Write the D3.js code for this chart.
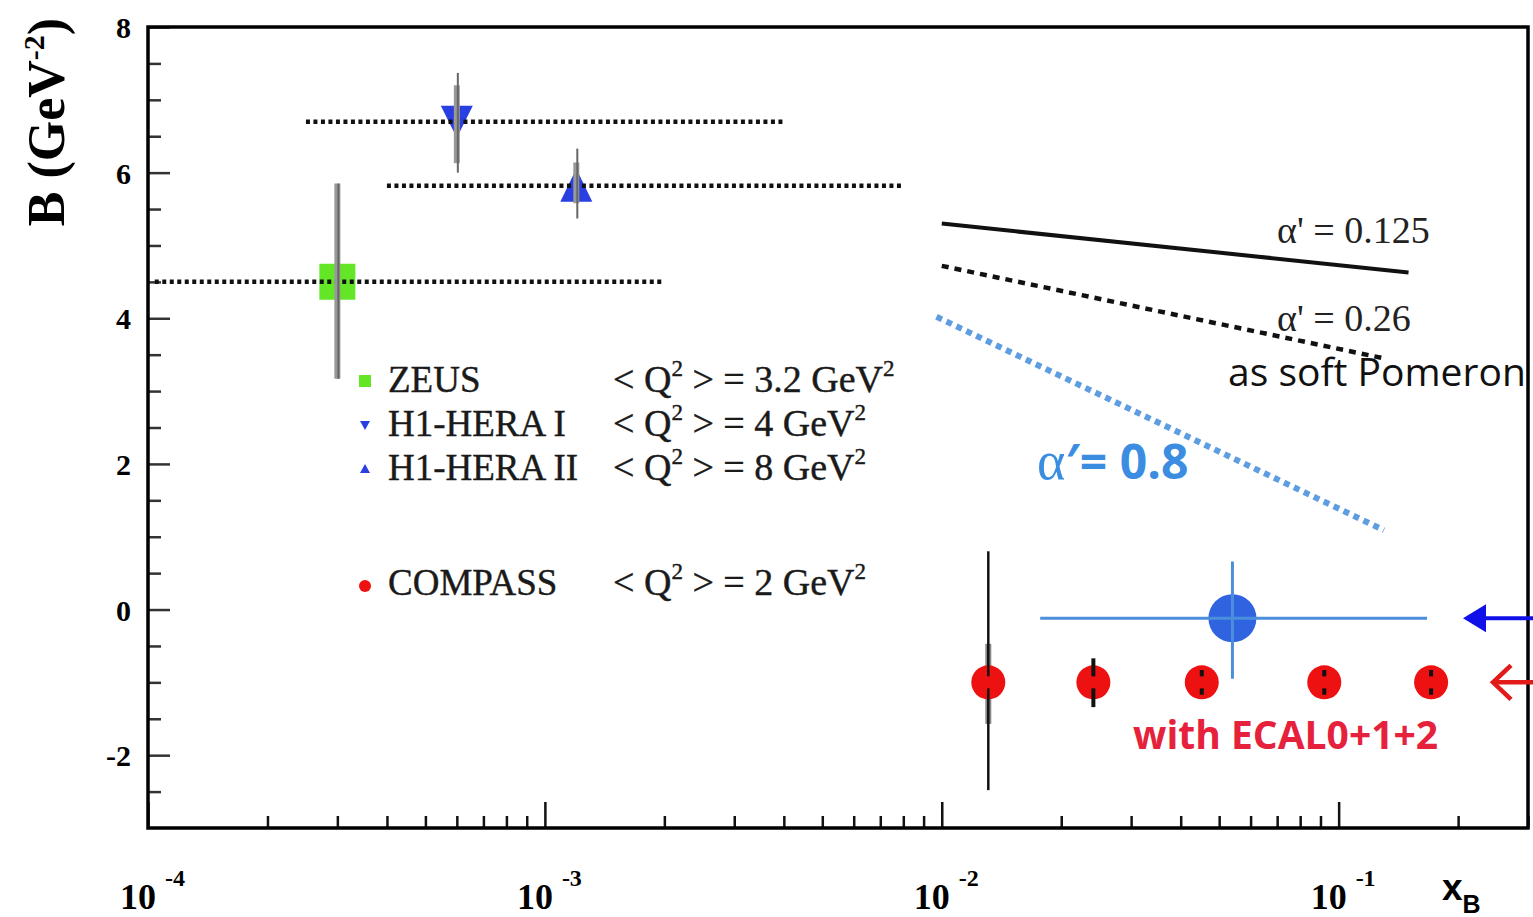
<!DOCTYPE html>
<html>
<head>
<meta charset="utf-8">
<script src="https://cdn.jsdelivr.net/npm/d3@7"></script>
<style>
	body { margin: 0; background: #fff; overflow: hidden; }
	text { font-family: "Liberation Serif", "DejaVu Serif", serif; }
</style>
</head>
<body>
<svg id="chart" width="1533" height="917"></svg>
<script>
// HERA points (ZEUS, H1)
var heraNames = ["ZEUS", "H1-HERA I", "H1-HERA II"];
var heraQ2 = ["3.2", "4", "8"];
var heraX = [3.0e-4, 6.0e-4, 1.2e-3];
var heraB = [4.5, 6.7, 5.82];
var heraXLo = [1.04e-4, 2.5e-4, 4.0e-4];
var heraXHi = [2.0e-3, 4.0e-3, 8.0e-3];
var heraSysLo = [3.17, 6.13, 5.58];
var heraSysHi = [5.85, 7.2, 6.14];
var heraTotLo = [3.17, 6.0, 5.37];
var heraTotHi = [5.85, 7.37, 6.33];

// COMPASS projection points
var compassX = [0.0131, 0.0241, 0.0452, 0.092, 0.171];
var compassB = [-1.0, -1.0, -1.0, -1.0, -1.0];
var compassErrLo = [-2.48, -1.34, -1.17, -1.17, -1.17];
var compassErrHi = [0.8, -0.67, -0.83, -0.83, -0.83];
var compassSysLo = [-1.57, -1.0, -1.0, -1.0, -1.0];
var compassSysHi = [-0.47, -1.0, -1.0, -1.0, -1.0];

// single point without ECAL0
var projX = [0.054];
var projB = [-0.12];
var projXLo = [0.0177];
var projXHi = [0.167];
var projBLo = [-0.95];
var projBHi = [0.66];

// slope lines
var slopeX0 = [0.01, 0.01, 0.0097];
var slopeX1 = [0.15, 0.13, 0.13];
var slopeB0 = [5.30, 4.72, 4.02];
var slopeB1 = [4.63, 3.45, 1.09];

// tick labels
var xDecades = [1e-4, 1e-3, 1e-2, 1e-1];
var xDecadeExp = ["-4", "-3", "-2", "-1"];
var yMajor = [-2, 0, 2, 4, 6, 8];

var svg = d3.select("#chart");
svg.append("rect").attr("width", 1533).attr("height", 917).attr("fill", "#fff");

var x = d3.scaleLog()
	.domain([1e-4, 0.3])
	.range([148, 1528]);
var y = d3.scaleLinear()
	.domain([-3, 8])
	.range([828, 27]);

// axes (ticks inside the frame)
var xMinor = x.ticks().filter(function(d) { return xDecades.indexOf(d) < 0; });
svg.append("g")
	.attr("transform", "translate(0,828)")
	.call(d3.axisBottom(x).tickValues(xMinor).tickSize(-12).tickSizeOuter(0).tickFormat(""))
	.call(function(g) { g.select(".domain").remove(); })
	.selectAll("line").attr("stroke", "#111").attr("stroke-width", 2.5);
svg.append("g")
	.attr("transform", "translate(0,828)")
	.call(d3.axisBottom(x).tickValues(xDecades).tickSize(-26).tickSizeOuter(0).tickFormat(""))
	.call(function(g) { g.select(".domain").remove(); })
	.selectAll("line").attr("stroke", "#111").attr("stroke-width", 2.5);

var yMinor = d3.range(-2.5, 8, 0.5).filter(function(d) { return yMajor.indexOf(d) < 0; });
svg.append("g")
	.attr("transform", "translate(148,0)")
	.call(d3.axisLeft(y).tickValues(yMinor).tickSize(-13).tickSizeOuter(0).tickFormat(""))
	.call(function(g) { g.select(".domain").remove(); })
	.selectAll("line").attr("stroke", "#333").attr("stroke-width", 2.5);
svg.append("g")
	.attr("transform", "translate(148,0)")
	.call(d3.axisLeft(y).tickValues(yMajor).tickSize(-22).tickSizeOuter(0).tickFormat(""))
	.call(function(g) { g.select(".domain").remove(); })
	.selectAll("line").attr("stroke", "#333").attr("stroke-width", 2.5);

// frame
svg.append("rect")
	.attr("x", x.range()[0]).attr("y", y.range()[1])
	.attr("width", x.range()[1] - x.range()[0])
	.attr("height", y.range()[0] - y.range()[1])
	.attr("fill", "none").attr("stroke", "#000").attr("stroke-width", 3.5);

// y tick labels
svg.selectAll(".ylab")
	.data(yMajor)
	.enter().append("text")
	.attr("x", 131)
	.attr("y", function(d) { return y(d) + 11; })
	.attr("text-anchor", "end")
	.style("font-size", "30px").style("font-weight", "bold")
	.text(function(d) { return d; });

// x tick labels 10^n
var xl = svg.selectAll(".xlab")
	.data(xDecades)
	.enter().append("g");
xl.append("text")
	.attr("x", function(d) { return x(d) + 8; })
	.attr("y", 909)
	.attr("text-anchor", "end")
	.style("font-size", "36px").style("font-weight", "bold")
	.text("10");
xl.append("text")
	.attr("x", function(d) { return x(d) + 17; })
	.attr("y", 886)
	.style("font-size", "24px").style("font-weight", "bold")
	.text(function(d, i) { return xDecadeExp[i]; });

// axis titles
svg.append("text")
	.attr("transform", "translate(64,122) rotate(-90)")
	.attr("text-anchor", "middle")
	.style("font-size", "52px").style("font-weight", "bold")
	.html('B (GeV<tspan dy="-20" style="font-size:30px">-2</tspan><tspan dy="20">)</tspan>');
svg.append("text")
	.attr("x", 1442).attr("y", 900)
	.style("font-family", "'Liberation Sans', Arial, sans-serif")
	.style("font-size", "37px").style("font-weight", "bold")
	.html('x<tspan dy="13" style="font-size:25px">B</tspan>');

// slope lines
var line = d3.line()
	.x(function(d) { return x(d[0]); })
	.y(function(d) { return y(d[1]); });
var slopeStyle = [
	{ stroke: "#111", width: 4, dash: null },
	{ stroke: "#111", width: 4.5, dash: "7,6" },
	{ stroke: "#5d9de0", width: 6, dash: "6,5" }
];
slopeX0.forEach(function(x0, i) {
	svg.append("path")
		.attr("d", line([[x0, slopeB0[i]], [slopeX1[i], slopeB1[i]]]))
		.attr("fill", "none")
		.attr("stroke", slopeStyle[i].stroke)
		.attr("stroke-width", slopeStyle[i].width)
		.attr("stroke-dasharray", slopeStyle[i].dash);
});

svg.append("text").attr("x", 1277).attr("y", 243)
	.style("font-size", "38px").attr("fill", "#222").text("\u03B1' = 0.125");
svg.append("text").attr("x", 1277).attr("y", 331)
	.style("font-size", "38px").attr("fill", "#222").text("\u03B1' = 0.26");
svg.append("text").attr("x", 1228).attr("y", 386)
	.style("font-family", "'Open Sans', sans-serif")
	.style("font-size", "39px").attr("fill", "#111").text("as soft Pomeron");
svg.append("text").attr("x", 1037).attr("y", 479)
	.style("font-family", "'Open Sans', sans-serif")
	.style("font-size", "48px").style("font-weight", "bold").attr("fill", "#3b8de2")
	.html('<tspan style="font-family:\'Liberation Serif\',serif;font-weight:normal;font-size:54px">\u03B1</tspan>\u2032= 0.8');

// HERA markers
var heraColor = ["#63e626", "#2a3fe2", "#2a3fe2"];
var heraShape = ["M-18,-18H18V18H-18Z", "M-16,-16H16L0,16Z", "M-16,16H16L0,-17Z"];
heraX.forEach(function(xv, i) {
	svg.append("path")
		.attr("d", heraShape[i])
		.attr("transform", "translate(" + x(xv) + "," + y(heraB[i]) + ")")
		.attr("fill", heraColor[i]);
});
// x ranges (dotted) and B errors
heraX.forEach(function(xv, i) {
	svg.append("line")
		.attr("x1", x(heraXLo[i])).attr("x2", x(heraXHi[i]))
		.attr("y1", y(heraB[i])).attr("y2", y(heraB[i]))
		.attr("stroke", "#111").attr("stroke-width", 4.5)
		.attr("stroke-dasharray", "4,3.5");
	svg.append("line")
		.attr("x1", x(xv)).attr("x2", x(xv))
		.attr("y1", y(heraSysLo[i])).attr("y2", y(heraSysHi[i]))
		.attr("stroke", "#999").attr("stroke-width", 6);
	svg.append("line")
		.attr("x1", x(xv) + 1).attr("x2", x(xv) + 1)
		.attr("y1", y(heraTotLo[i])).attr("y2", y(heraTotHi[i]))
		.attr("stroke", "#666").attr("stroke-width", 2);
});

// COMPASS projected points
compassX.forEach(function(xv, i) {
	svg.append("line")
		.attr("x1", x(xv)).attr("x2", x(xv))
		.attr("y1", y(compassSysLo[i])).attr("y2", y(compassSysHi[i]))
		.attr("stroke", "#888").attr("stroke-width", 6);
});
svg.selectAll(".compass")
	.data(compassX)
	.enter().append("circle")
	.attr("cx", function(d) { return x(d); })
	.attr("cy", function(d, i) { return y(compassB[i]); })
	.attr("r", 17)
	.attr("fill", "#ee1111");
compassX.forEach(function(xv, i) {
	var yc = y(compassB[i]);
	svg.append("line")
		.attr("x1", x(xv)).attr("x2", x(xv))
		.attr("y1", y(compassErrHi[i])).attr("y2", yc - 6)
		.attr("stroke", "#111").attr("stroke-width", i == 0 ? 2.5 : 4);
	svg.append("line")
		.attr("x1", x(xv)).attr("x2", x(xv))
		.attr("y1", yc + 6).attr("y2", y(compassErrLo[i]))
		.attr("stroke", "#111").attr("stroke-width", i == 0 ? 2.5 : 4);
});
svg.append("text").attr("x", 1133).attr("y", 749)
	.style("font-family", "'Open Sans', sans-serif")
	.style("font-size", "39px").style("font-weight", "bold").attr("fill", "#e6213b")
	.text("with ECAL0+1+2");

// point without ECAL0
svg.append("circle")
	.attr("cx", x(projX[0])).attr("cy", y(projB[0]))
	.attr("r", 24).attr("fill", "#2f63e0");
svg.append("line")
	.attr("x1", x(projXLo[0])).attr("x2", x(projXHi[0]))
	.attr("y1", y(projB[0])).attr("y2", y(projB[0]))
	.attr("stroke", "#4b8fdc").attr("stroke-width", 3);
svg.append("line")
	.attr("x1", x(projX[0])).attr("x2", x(projX[0]))
	.attr("y1", y(projBLo[0])).attr("y2", y(projBHi[0]))
	.attr("stroke", "#4b8fdc").attr("stroke-width", 3);

// arrows at the right edge
var ya = y(projB[0]);
svg.append("line").attr("x1", 1480).attr("x2", 1540).attr("y1", ya).attr("y2", ya)
	.attr("stroke", "#1010e8").attr("stroke-width", 4);
svg.append("path").attr("d", "M1463," + ya + "L1486," + (ya - 14) + "L1486," + (ya + 14) + "Z")
	.attr("fill", "#1010e8");
var yr = y(compassB[0]);
svg.append("line").attr("x1", 1493).attr("x2", 1540).attr("y1", yr).attr("y2", yr)
	.attr("stroke", "#e21a1a").attr("stroke-width", 4.5);
svg.append("path").attr("d", "M1511," + (yr - 17) + "L1493," + yr + "L1511," + (yr + 17))
	.attr("fill", "none").attr("stroke", "#e21a1a").attr("stroke-width", 4.5);

// legend
var legY = [379, 423, 467, 582];
var legNames = heraNames.concat(["COMPASS"]);
var legQ = heraQ2.concat(["2"]);
var legMark = ["M-6,-6H6V6H-6Z", "M-5,-4H5L0,5Z", "M-5,4H5L0,-5Z"];
legMark.forEach(function(p, i) {
	svg.append("path").attr("d", p)
		.attr("transform", "translate(365," + (legY[i] + 2) + ")")
		.attr("fill", heraColor[i]);
});
svg.append("circle").attr("cx", 365).attr("cy", legY[3] + 4).attr("r", 6).attr("fill", "#ee1111");
legNames.forEach(function(n, i) {
	svg.append("text").attr("x", 388).attr("y", legY[i] + 13)
		.style("font-size", "37px").attr("fill", "#1a1a1a")
		.attr("stroke", "#1a1a1a").attr("stroke-width", 0.4).text(n);
	svg.append("text").attr("x", 613).attr("y", legY[i] + 13)
		.style("font-size", "38px").attr("fill", "#1a1a1a")
		.attr("stroke", "#1a1a1a").attr("stroke-width", 0.4)
		.html('&lt; Q<tspan dy="-16" style="font-size:23px">2</tspan><tspan dy="16"> &gt; = ' + legQ[i] +
			' GeV</tspan><tspan dy="-16" style="font-size:23px">2</tspan>');
});
</script>
</body>
</html>
